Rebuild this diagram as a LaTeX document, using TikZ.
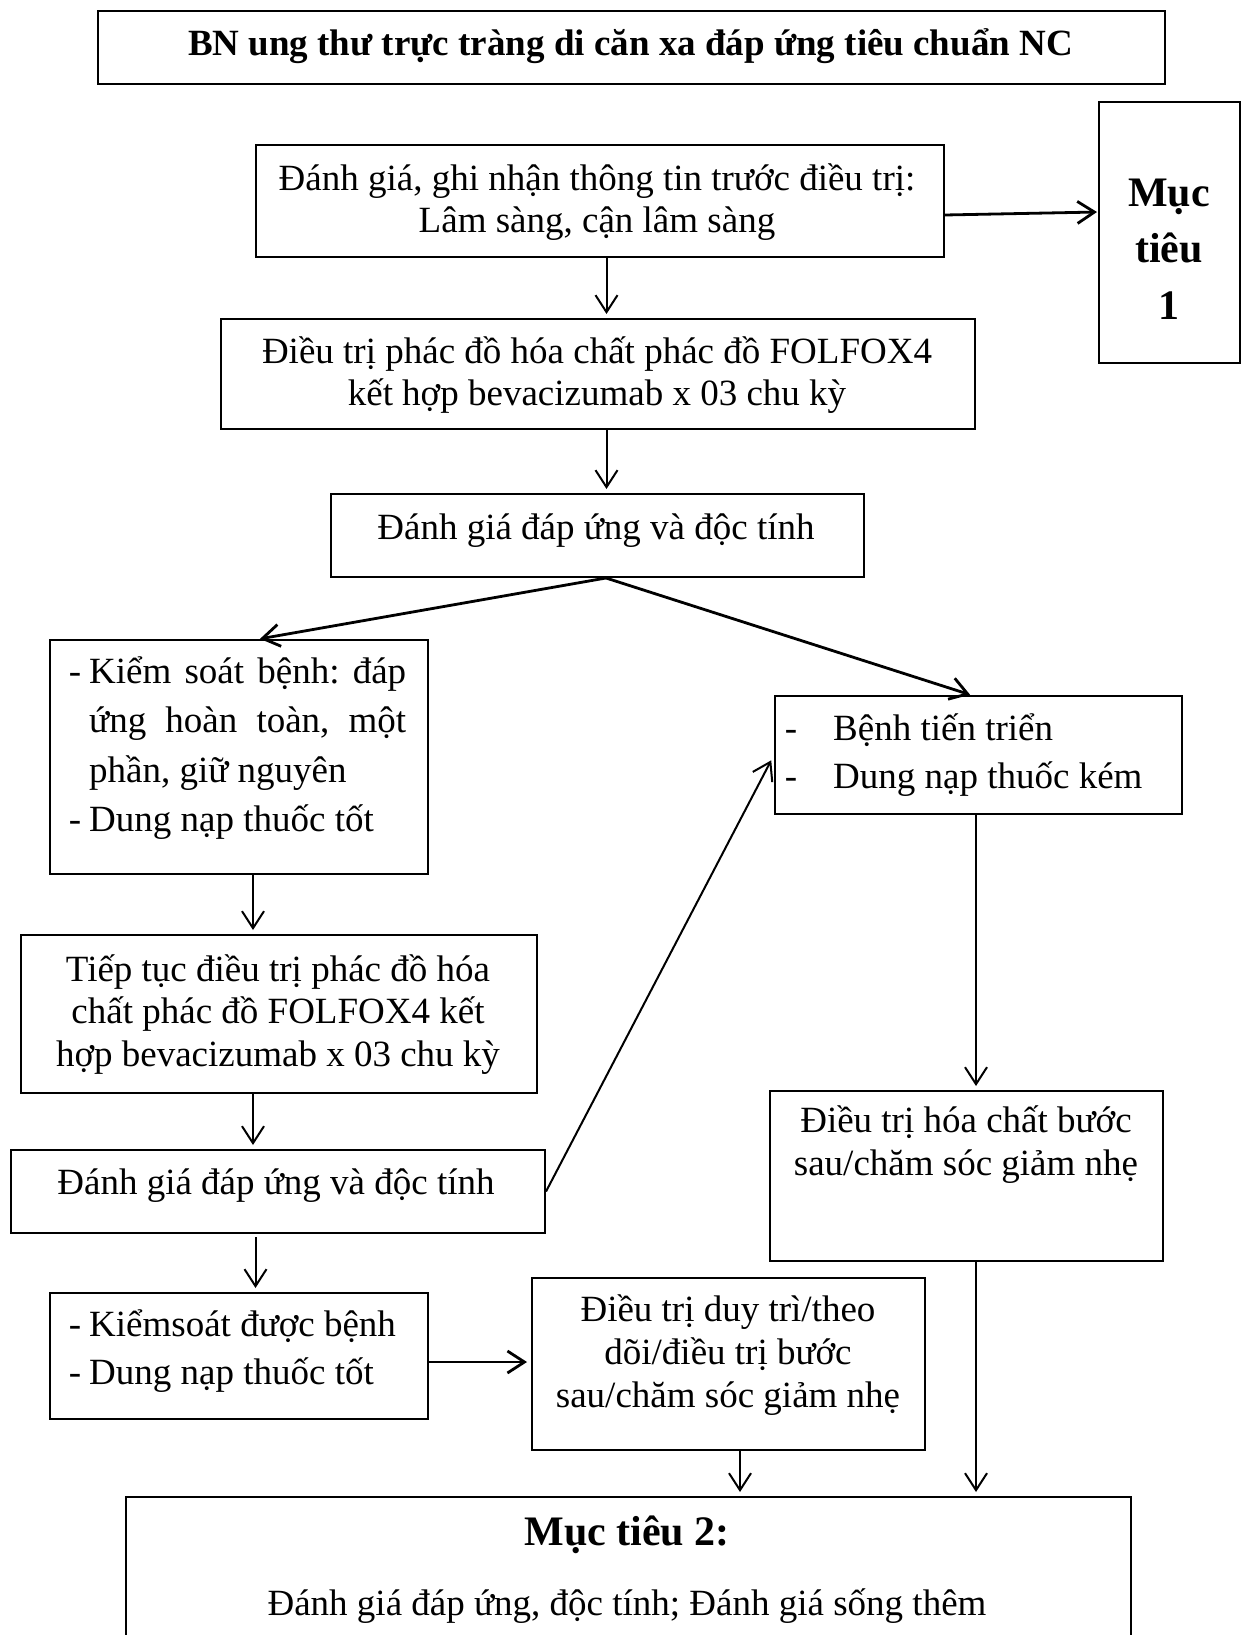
\documentclass[tikz,border=0pt]{standalone}
\usepackage{fontspec}
\setmainfont{Liberation Serif}
\usetikzlibrary{arrows.meta,calc}
\frenchspacing
\newcommand\clines[1]{\vtop{\halign{\hfil##\hfil\cr#1\crcr}}}
\newcommand\llines[1]{\vtop{\halign{##\hfil\cr#1\crcr}}}
\newcommand\dsh[1]{\llap{-\hspace{#1}}}
\newcommand\mkbox[5]{\node[box,anchor=north west,minimum width={(#4)-(#2)},minimum height={(#5)-(#3)}] (#1) at (#2,#3) {};}
\tikzset{
  box/.style={draw,line width=2pt,inner sep=0pt,rectangle},
  arr/.style={-{Straight Barb[length=17pt,width=22pt]},line width=2pt,shorten >=4pt},
  tarr/.style={arr,line width=2.8pt},
  txt/.style={inner sep=0pt,anchor=base,font=\fontsize{37}{42.5}\selectfont},
  ltxt/.style={txt,anchor=base west},
}
\begin{document}
\begin{tikzpicture}[x=1pt,y=-1pt]
\useasboundingbox[fill=white] (0,0) rectangle (1248,1635);
% boxes
\mkbox{T}{97}{10}{1164}{83}
\mkbox{B1}{255}{144}{943}{256}
\mkbox{M1}{1098}{101}{1239}{362}
\mkbox{B2}{220}{318}{974}{428}
\mkbox{B3}{330}{493}{863}{576}
\mkbox{L1}{49}{639}{427}{873}
\mkbox{R1}{774}{695}{1181}{813}
\mkbox{L2}{20}{934}{536}{1092}
\mkbox{L3}{10}{1149}{544}{1232}
\mkbox{L4}{49}{1292}{427}{1418}
\mkbox{M}{531}{1277}{924}{1449}
\mkbox{R2}{769}{1090}{1162}{1260}
\mkbox{G}{125}{1496}{1130}{1648}
% texts
\node[txt,font=\bfseries\fontsize{37}{42.5}\selectfont] (tT) at (630.5,56) {BN ung thư trực tràng di căn xa đáp ứng tiêu chuẩn NC};
\node[txt] (tB1) at (597,190) {\clines{Đánh giá, ghi nhận thông tin trước điều trị:\cr Lâm sàng, cận lâm sàng}};
\node[txt,font=\bfseries\fontsize{42}{56.5}\selectfont] (tM1) at (1169,206) {\clines{Mục\cr tiêu\cr 1}};
\node[txt] (tB2) at (597,363) {\clines{Điều trị phác đồ hóa chất phác đồ FOLFOX4\cr kết hợp bevacizumab x 03 chu kỳ}};
\node[txt] (tB3) at (596,539) {Đánh giá đáp ứng và độc tính};
\node[ltxt,font=\fontsize{37}{49.5}\selectfont] (tL1) at (89,683) {\llines{\dsh{8pt}\makebox[317pt][s]{Kiểm soát bệnh: đáp}\cr\makebox[317pt][s]{ứng hoàn toàn, một}\cr phần, giữ nguyên\cr\dsh{8pt}Dung nạp thuốc tốt}};
\node[ltxt,font=\fontsize{37}{48}\selectfont] (tR1) at (833,740) {\llines{\dsh{36pt}Bệnh tiến triển\cr\dsh{36pt}Dung nạp thuốc kém}};
\node[txt] (tL2) at (278,981) {\clines{Tiếp tục điều trị phác đồ hóa\cr chất phác đồ FOLFOX4 kết\cr hợp bevacizumab x 03 chu kỳ}};
\node[txt] (tL3) at (276,1194) {Đánh giá đáp ứng và độc tính};
\node[ltxt,font=\fontsize{37}{48}\selectfont] (tL4) at (89,1336) {\llines{\dsh{8pt}Kiểmsoát được bệnh\cr\dsh{8pt}Dung nạp thuốc tốt}};
\node[txt,font=\fontsize{37}{43}\selectfont] (tM) at (728,1321) {\clines{Điều trị duy trì/theo\cr dõi/điều trị bước\cr sau/chăm sóc giảm nhẹ}};
\node[txt,font=\fontsize{37}{43}\selectfont] (tR2) at (966,1132) {\clines{Điều trị hóa chất bước\cr sau/chăm sóc giảm nhẹ}};
\node[txt,font=\bfseries\fontsize{42}{50}\selectfont] (tG1) at (627,1545) {Mục tiêu 2:};
\node[txt] (tG2) at (627,1615) {Đánh giá đáp ứng, độc tính; Đánh giá sống thêm};
% columns for vertical connectors
\coordinate (c1) at (606.5,0);
\coordinate (c2) at (253,0);
\coordinate (c3) at (255.5,0);
\coordinate (c4) at (976,0);
\coordinate (c5) at (740,0);
% connectors
\draw[tarr,shorten >=1pt] ($(B1.east)+(0,14)$) -- ($(M1.west)+(0,-20.5)$);
\draw[arr] (B1.south -| c1) -- (B2.north -| c1);
\draw[arr] (B2.south -| c1) -- (B3.north -| c1);
\draw[tarr,shorten >=1pt] ($(B3.south)+(8.5,0)$) -- ($(L1.north west)+(210,0)$);
\draw[tarr,shorten >=1pt] ($(B3.south)+(8.5,0)$) -- ($(R1.north west)+(197,0)$);
\draw[arr] (L1.south -| c2) -- (L2.north -| c2);
\draw[arr] (L2.south -| c2) -- (L3.north -| c2);
\draw[arr] ($(L3.south -| c3)+(0,3)$) -- (L4.north -| c3);
\draw[arr,shorten >=6pt] (L3.east) -- (R1.west);
\draw[arr] (R1.south -| c4) -- (R2.north -| c4);
\draw[arr] (R2.south -| c4) -- (G.north -| c4);
\draw[tarr] ($(L4.east)+(0,6)$) -- ($(M.west)+(0,-2)$);
\draw[arr] (M.south -| c5) -- (G.north -| c5);
\end{tikzpicture}
\end{document}
